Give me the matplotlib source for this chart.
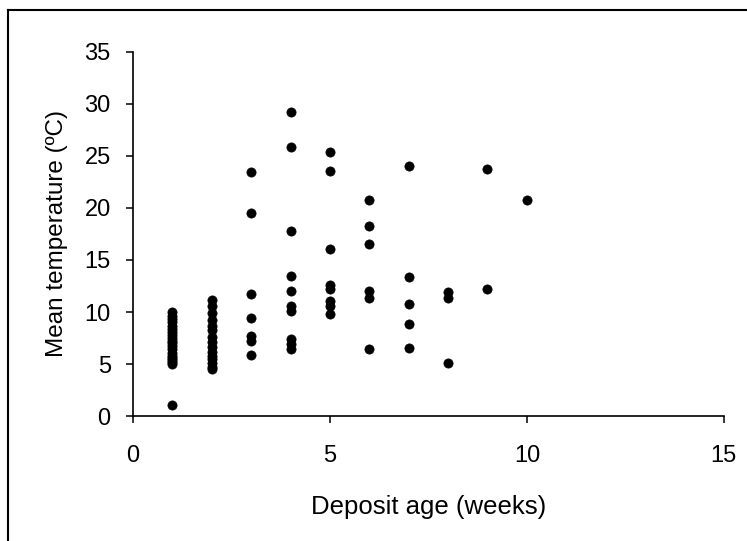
import numpy as np
import matplotlib.pyplot as plt
from matplotlib.lines import Line2D

plt.rcParams['font.family'] = ['Liberation Sans', 'DejaVu Sans']

# deposit age (weeks) and mean temperature
age_1 = [1] * 20
temp_1 = [10.0, 9.6, 9.3, 9.0, 8.7, 8.4, 8.1, 7.8, 7.5, 7.2, 7.0, 6.7,
          6.4, 6.1, 5.8, 5.6, 5.4, 5.2, 5.0, 1.1]
age_2 = [2] * 15
temp_2 = [11.2, 10.6, 9.9, 9.2, 8.7, 8.3, 7.6, 7.1, 6.6, 6.2, 5.8,
          5.5, 5.1, 4.7, 4.5]
age_3 = [3] * 7
temp_3 = [23.5, 19.5, 11.7, 9.4, 7.7, 7.2, 5.9]
age_4 = [4] * 10
temp_4 = [29.2, 25.9, 17.8, 13.5, 12.0, 10.6, 10.1, 7.4, 6.9, 6.4]
age_5 = [5] * 8
temp_5 = [25.4, 23.6, 16.1, 12.6, 12.2, 11.1, 10.6, 9.8]
age_6 = [6] * 6
temp_6 = [20.8, 18.3, 16.5, 12.0, 11.3, 6.4]
age_7 = [7] * 5
temp_7 = [24.0, 13.4, 10.8, 8.8, 6.5]
age_8 = [8] * 3
temp_8 = [11.9, 11.3, 5.1]
age_9 = [9] * 2
temp_9 = [23.7, 12.2]
age_10 = [10]
temp_10 = [20.8]

ages = age_1 + age_2 + age_3 + age_4 + age_5 + age_6 + age_7 + age_8 + age_9 + age_10
temps = temp_1 + temp_2 + temp_3 + temp_4 + temp_5 + temp_6 + temp_7 + temp_8 + temp_9 + temp_10

fig = plt.figure(figsize=(7.47, 5.41), dpi=100)
ax = fig.add_axes([0.178, 0.231, 0.791, 0.673])

ax.scatter(ages, temps, s=44, color='black', edgecolors='black', linewidths=0.5, zorder=3)

ax.set_xlim(0, 15)
ax.set_ylim(0, 35)
ax.set_xticks([0, 5, 10, 15])
ax.set_yticks(np.arange(0, 36, 5))
ax.spines['top'].set_visible(False)
ax.spines['right'].set_visible(False)
ax.spines['left'].set_linewidth(1.2)
ax.spines['bottom'].set_linewidth(1.2)
ax.tick_params(direction='out', length=5, width=1.1, labelsize=17)
ax.tick_params(axis='x', pad=16)
ax.tick_params(axis='y', pad=11)
ax.set_xlabel('Deposit age (weeks)', fontsize=18.5, labelpad=20)
ax.set_ylabel('Mean temperature (ºC)', fontsize=17.5, labelpad=12)

# outer frame around the figure (left and top edges)
fig.add_artist(Line2D([0.011, 0.011], [0.0, 0.981], color='black', lw=1.5))
fig.add_artist(Line2D([0.011, 1.0], [0.981, 0.981], color='black', lw=1.5))

plt.savefig('out.png', dpi=100)
